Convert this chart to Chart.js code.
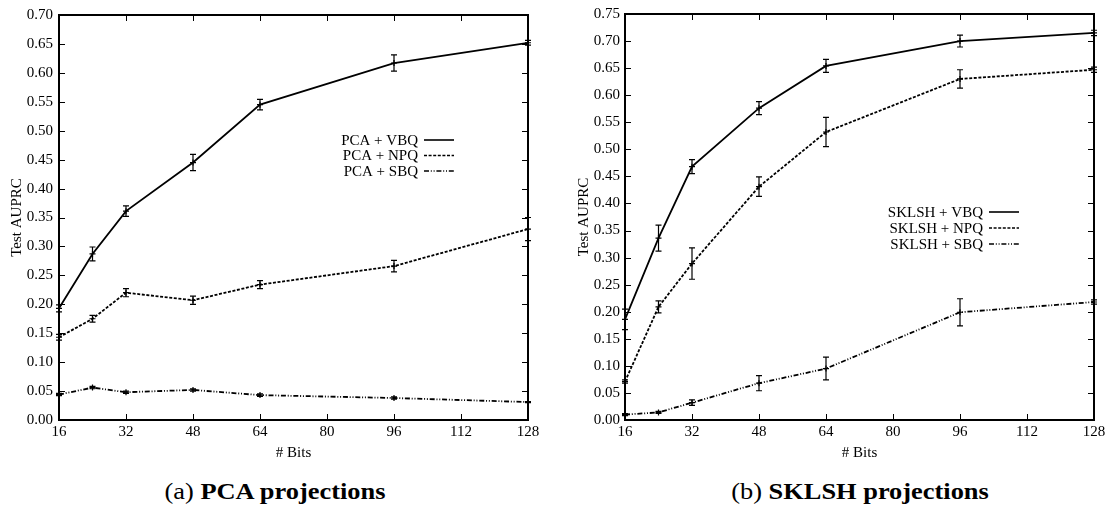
<!DOCTYPE html>
<html>
<head>
<meta charset="utf-8">
<script src="https://cdn.jsdelivr.net/npm/chart.js@4.4.1/dist/chart.umd.min.js"></script>
<style>
  body { margin: 0; background: #fff; width: 1113px; height: 510px; position: relative; overflow: hidden; }
  canvas { position: absolute; top: 0; }
  #pca { left: 0; }
  #sklsh { left: 556px; }
  .caption {
    position: absolute; top: 478px; font-family: 'Liberation Serif', 'Times New Roman', serif;
    font-size: 24px; color: #000; white-space: nowrap; transform: translateX(-50%) scaleX(1.1);
  }
  .caption b { font-weight: bold; }
</style>
</head>
<body>
<canvas id="pca" width="556" height="470"></canvas>
<canvas id="sklsh" width="557" height="470"></canvas>
<div class="caption" style="left:275px">(a) <b>PCA projections</b></div>
<div class="caption" style="left:860px">(b) <b>SKLSH projections</b></div>

<script>
// number of bits on the x axis
const bits = [16, 24, 32, 48, 64, 96, 128];
const bitTicks = [16, 32, 48, 64, 80, 96, 112, 128];

// PCA projections: mean test AUPRC and error bar half-heights
const pcaVbq = [0.193, 0.287, 0.361, 0.445, 0.545, 0.617, 0.652];
const pcaVbqErr = [0.006, 0.012, 0.009, 0.014, 0.009, 0.014, 0.004];
const pcaNpq = [0.143, 0.175, 0.220, 0.207, 0.234, 0.266, 0.330];
const pcaNpqErr = [0.005, 0.006, 0.007, 0.007, 0.007, 0.010, 0.020];
const pcaSbq = [0.044, 0.056, 0.048, 0.052, 0.043, 0.038, 0.031];
const pcaSbqErr = [0.002, 0.002, 0.002, 0.002, 0.002, 0.002, 0.001];
const pcaYTicks = [0.00, 0.05, 0.10, 0.15, 0.20, 0.25, 0.30, 0.35, 0.40, 0.45, 0.50, 0.55, 0.60, 0.65, 0.70];

// SKLSH projections
const sklVbq = [0.186, 0.336, 0.468, 0.576, 0.654, 0.700, 0.715];
const sklVbqErr = [0.019, 0.024, 0.013, 0.012, 0.012, 0.011, 0.005];
const sklNpq = [0.071, 0.209, 0.289, 0.431, 0.532, 0.630, 0.647];
const sklNpqErr = [0.003, 0.011, 0.029, 0.018, 0.027, 0.017, 0.005];
const sklSbq = [0.010, 0.014, 0.032, 0.068, 0.095, 0.199, 0.218];
const sklSbqErr = [0.002, 0.002, 0.005, 0.014, 0.021, 0.025, 0.004];
const sklYTicks = [0.00, 0.05, 0.10, 0.15, 0.20, 0.25, 0.30, 0.35, 0.40, 0.45, 0.50, 0.55, 0.60, 0.65, 0.70, 0.75];

const SERIF = "'Liberation Serif', 'Times New Roman', serif";
const DASHES = { solid: [], dashed: [3, 1.6], dashDot: [5, 1.8, 1, 1.8, 1, 1.8] };

// vertical error bars with short caps
const errorBars = {
  id: 'errorBars',
  afterDatasetsDraw(chart) {
    const {ctx, scales: {x, y}} = chart;
    ctx.save();
    ctx.strokeStyle = '#000';
    ctx.lineWidth = 1.2;
    chart.data.datasets.forEach(ds => {
      ds.data.forEach((v, i) => {
        const e = ds.errors[i];
        const px = x.getPixelForValue(bits[i]);
        const top = y.getPixelForValue(v + e);
        const bot = y.getPixelForValue(v - e);
        ctx.beginPath();
        ctx.moveTo(px, top); ctx.lineTo(px, bot);
        ctx.moveTo(px - 3, top); ctx.lineTo(px + 3, top);
        ctx.moveTo(px - 3, bot); ctx.lineTo(px + 3, bot);
        ctx.stroke();
      });
    });
    ctx.restore();
  }
};

// gnuplot style box: border plus inward ticks on all four sides
const frame = {
  id: 'frame',
  afterDraw(chart) {
    const {ctx, chartArea: a, scales: {x, y}} = chart;
    ctx.save();
    ctx.strokeStyle = '#000';
    ctx.lineWidth = 1;
    ctx.beginPath();
    x.ticks.forEach(t => {
      const px = Math.round(x.getPixelForValue(t.value)) + 0.5;
      ctx.moveTo(px, a.bottom); ctx.lineTo(px, a.bottom - 6);
      ctx.moveTo(px, a.top); ctx.lineTo(px, a.top + 6);
    });
    y.ticks.forEach(t => {
      const py = Math.round(y.getPixelForValue(t.value)) + 0.5;
      ctx.moveTo(a.left, py); ctx.lineTo(a.left + 6, py);
      ctx.moveTo(a.right, py); ctx.lineTo(a.right - 6, py);
    });
    ctx.stroke();
    ctx.lineWidth = 2;
    ctx.strokeRect(a.left, a.top, a.right - a.left, a.bottom - a.top);
    ctx.restore();
  }
};

// key with the label on the left and a line sample on the right
const key = {
  id: 'key',
  afterDraw(chart, args, opts) {
    const {ctx} = chart;
    ctx.save();
    ctx.font = '15px ' + SERIF;
    ctx.fillStyle = '#000';
    ctx.textAlign = 'right';
    ctx.textBaseline = 'middle';
    chart.data.datasets.forEach((ds, i) => {
      const yy = opts.y + i * opts.step;
      ctx.fillText(ds.label, opts.x, yy + 1);
      ctx.strokeStyle = '#000';
      ctx.lineWidth = 1.6;
      ctx.setLineDash(ds.borderDash);
      ctx.beginPath();
      ctx.moveTo(opts.x + 6, yy);
      ctx.lineTo(opts.x + 6 + opts.len, yy);
      ctx.stroke();
    });
    ctx.restore();
  }
};

function series(label, data, errors, dash) {
  return {
    label, data, errors,
    borderColor: '#000',
    borderWidth: 1.8,
    borderDash: dash,
    pointStyle: 'cross',
    pointRadius: 3,
    pointBorderWidth: 1.2,
    pointBorderColor: '#000',
    tension: 0,
    clip: false
  };
}

function makeChart(id, cfg) {
  const tickFont = {family: SERIF, size: 15};
  return new Chart(document.getElementById(id), {
    type: 'line',
    data: {
      labels: bits,
      datasets: cfg.datasets
    },
    options: {
      responsive: false,
      animation: false,
      layout: {padding: {top: cfg.top, right: cfg.right, left: 0, bottom: 0}},
      plugins: {
        legend: {display: false},
        tooltip: {enabled: false},
        key: cfg.key
      },
      scales: {
        x: {
          type: 'linear',
          min: 16, max: 128,
          afterBuildTicks: s => { s.ticks = bitTicks.map(v => ({value: v})); },
          afterFit: s => { s.height = 50; },
          grid: {display: false, drawTicks: false},
          border: {display: false},
          ticks: {font: tickFont, color: '#000', padding: 3, maxRotation: 0, autoSkip: false},
          title: {display: true, text: '# Bits', font: tickFont, color: '#000', padding: {top: 0, bottom: 8}}
        },
        y: {
          min: 0, max: cfg.yMax,
          afterBuildTicks: s => { s.ticks = cfg.yTicks.map(v => ({value: v})); },
          afterFit: s => { s.width = cfg.yWidth; },
          grid: {display: false, drawTicks: false},
          border: {display: false},
          ticks: {font: tickFont, color: '#000', padding: cfg.yPad, autoSkip: false, callback: v => v.toFixed(2)},
          title: {display: true, text: 'Test AUPRC', font: tickFont, color: '#000', padding: {top: cfg.titlePad, bottom: 0}}
        }
      }
    },
    plugins: [errorBars, frame, key]
  });
}

makeChart('pca', {
  top: 13, right: 28, yWidth: 59, yPad: 6, titlePad: 8,
  yMax: 0.70, yTicks: pcaYTicks,
  key: {x: 418, y: 140, step: 15.5, len: 30},
  datasets: [
    series('PCA + VBQ', pcaVbq, pcaVbqErr, DASHES.solid),
    series('PCA + NPQ', pcaNpq, pcaNpqErr, DASHES.dashed),
    series('PCA + SBQ', pcaSbq, pcaSbqErr, DASHES.dashDot)
  ]
});

makeChart('sklsh', {
  top: 14, right: 19, yWidth: 69, yPad: 5, titlePad: 19,
  yMax: 0.75, yTicks: sklYTicks,
  key: {x: 427, y: 212, step: 16, len: 30},
  datasets: [
    series('SKLSH + VBQ', sklVbq, sklVbqErr, DASHES.solid),
    series('SKLSH + NPQ', sklNpq, sklNpqErr, DASHES.dashed),
    series('SKLSH + SBQ', sklSbq, sklSbqErr, DASHES.dashDot)
  ]
});
</script>
</body>
</html>
